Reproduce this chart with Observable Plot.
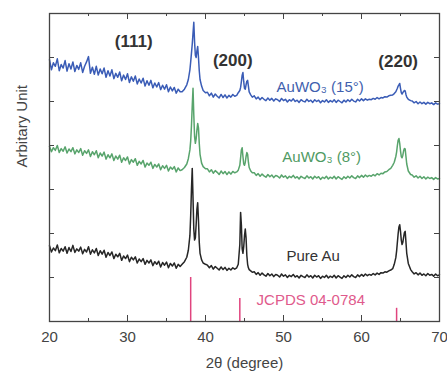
<!DOCTYPE html>
<html>
<head>
<meta charset="utf-8">
<script src="https://cdn.jsdelivr.net/npm/d3@7"></script>
<script src="https://cdn.jsdelivr.net/npm/@observablehq/plot@0.6"></script>
<style>
  html, body { margin: 0; padding: 0; background: #fff; }
</style>
</head>
<body>
<div id="chart"></div>
<script>
// 2θ sample positions (degrees)
const twoTheta = [
  20,20.25,20.5,20.75,21,21.25,21.5,21.75,22,22.25,22.5,22.75,23,23.25,23.5,23.75,24,24.25,24.5,24.75,
  25,25.25,25.5,25.75,26,26.25,26.5,26.75,27,27.25,27.5,27.75,28,28.25,28.5,28.75,29,29.25,29.5,29.75,
  30,30.25,30.5,30.75,31,31.25,31.5,31.75,32,32.25,32.5,32.75,33,33.25,33.5,33.75,34,34.25,34.5,34.75,
  35,35.25,35.5,35.75,36,36.25,36.5,36.75,
  37,37.3,37.6,37.8,38,38.1,38.2,38.3,38.4,38.5,38.6,38.7,38.8,38.9,39,39.1,39.2,39.3,39.5,39.7,40,
  40.25,40.5,40.75,41,41.25,41.5,41.75,42,42.25,42.5,42.75,43,43.25,43.5,43.75,
  44,44.2,44.4,44.5,44.6,44.7,44.8,44.9,45,45.1,45.2,45.3,45.4,45.5,45.6,45.8,46,
  46.25,46.5,46.75,47,47.25,47.5,47.75,48,48.25,48.5,48.75,49,49.25,49.5,49.75,50,
  50.25,50.5,50.75,51,51.25,51.5,51.75,52,52.25,52.5,52.75,53,53.25,53.5,53.75,54,
  54.25,54.5,54.75,55,55.25,55.5,55.75,56,56.25,56.5,56.75,57,57.25,57.5,57.75,58,
  58.25,58.5,58.75,59,59.25,59.5,59.75,60,60.25,60.5,60.75,61,61.25,61.5,61.75,62,
  62.25,62.5,62.75,63,63.25,63.5,63.75,
  64,64.2,64.4,64.5,64.6,64.7,64.8,64.9,65,65.1,65.2,65.3,65.4,65.5,65.6,65.7,65.8,66,66.3,
  66.5,66.75,67,67.25,67.5,67.75,68,68.25,68.5,68.75,69,69.25,69.5,69.75,70
];

// Intensities (arbitrary units, offset as drawn)
const pureAu = [
  1.72,1.58,1.67,1.61,1.74,1.56,1.66,1.60,1.70,1.55,1.68,1.59,1.73,1.57,1.65,1.60,
  1.69,1.54,1.64,1.58,1.70,1.53,1.63,1.56,1.66,1.50,1.61,1.53,1.62,1.46,1.57,1.50,
  1.58,1.43,1.53,1.47,1.55,1.39,1.49,1.43,1.51,1.36,1.46,1.40,1.47,1.33,1.42,1.36,
  1.43,1.30,1.39,1.33,1.40,1.27,1.36,1.30,1.37,1.24,1.34,1.28,1.35,1.22,1.32,1.26,
  1.33,1.21,1.30,1.25,
  1.30,1.36,1.46,1.62,1.95,2.40,3.00,3.48,2.80,2.10,1.85,1.90,2.20,2.55,2.70,2.30,1.80,1.55,1.40,1.33,1.30,
  1.28,1.22,1.27,1.19,1.25,1.21,1.17,1.24,1.18,1.23,1.16,1.21,1.17,1.22,1.19,
  1.22,1.30,1.75,2.48,2.20,1.65,1.55,1.70,1.95,2.10,1.90,1.50,1.30,1.22,1.18,1.15,1.12,
  1.13,1.07,1.11,1.05,1.10,1.06,1.03,1.09,1.04,1.08,1.02,1.07,1.05,1.01,1.08,1.03,
  1.06,1.00,1.05,1.02,1.07,1.01,1.04,0.99,1.05,1.02,1.00,1.06,1.01,1.04,0.99,1.05,
  1.01,1.04,0.98,1.03,1.00,1.05,0.99,1.03,1.00,1.05,0.99,1.04,1.01,0.98,1.04,1.00,
  1.05,1.01,1.06,1.02,1.00,1.06,1.02,1.07,1.03,1.08,1.04,1.07,1.05,1.09,1.06,1.10,
  1.07,1.11,1.10,1.13,1.12,1.15,1.17,
  1.20,1.30,1.45,1.60,1.80,2.00,2.15,2.20,2.05,1.85,1.75,1.80,1.92,2.02,2.05,1.80,1.55,1.32,1.18,
  1.13,1.08,1.11,1.06,1.10,1.05,1.08,1.04,1.09,1.05,1.07,1.03,1.08,1.04,1.06
];
const auwo8 = [
  3.98,3.86,3.95,3.89,4.00,3.84,3.93,3.87,3.97,3.83,3.92,3.86,3.95,3.81,3.90,3.84,
  3.93,3.78,3.88,3.82,3.90,3.75,3.86,3.79,3.88,3.72,3.83,3.76,3.85,3.69,3.79,3.72,
  3.81,3.66,3.76,3.69,3.78,3.62,3.72,3.66,3.74,3.58,3.68,3.62,3.70,3.55,3.64,3.58,
  3.66,3.51,3.60,3.55,3.62,3.48,3.57,3.51,3.58,3.45,3.54,3.48,3.55,3.42,3.51,3.46,
  3.52,3.40,3.49,3.43,
  3.45,3.50,3.58,3.70,3.90,4.10,4.45,4.90,5.30,4.70,4.20,4.05,4.15,4.35,4.50,4.40,4.05,3.80,3.60,3.52,3.47,
  3.47,3.40,3.45,3.37,3.43,3.39,3.34,3.42,3.36,3.41,3.34,3.40,3.35,3.41,3.38,
  3.40,3.44,3.55,3.72,3.90,3.95,3.75,3.58,3.55,3.62,3.75,3.84,3.80,3.62,3.50,3.42,3.38,
  3.38,3.32,3.36,3.30,3.35,3.31,3.28,3.34,3.29,3.33,3.27,3.32,3.30,3.26,3.33,3.28,
  3.31,3.25,3.30,3.27,3.32,3.26,3.29,3.24,3.30,3.27,3.25,3.31,3.26,3.29,3.24,3.30,
  3.26,3.29,3.23,3.28,3.25,3.30,3.24,3.28,3.25,3.30,3.24,3.29,3.26,3.23,3.29,3.25,
  3.30,3.26,3.31,3.27,3.25,3.31,3.27,3.32,3.28,3.33,3.29,3.32,3.30,3.34,3.31,3.36,
  3.33,3.37,3.36,3.40,3.41,3.45,3.48,
  3.55,3.62,3.75,3.85,4.00,4.12,4.16,4.05,3.88,3.75,3.72,3.78,3.88,3.93,3.92,3.75,3.58,3.42,3.34,
  3.33,3.28,3.31,3.26,3.30,3.25,3.29,3.24,3.28,3.25,3.27,3.23,3.27,3.24,3.25
];
const auwo15 = [
  5.95,5.72,5.88,5.80,5.97,5.70,5.84,5.76,5.93,5.69,5.86,5.74,5.90,5.68,5.82,5.73,
  5.88,5.66,5.80,5.90,6.02,5.64,5.78,5.62,5.80,5.60,5.74,5.63,5.76,5.55,5.70,5.58,
  5.72,5.52,5.64,5.55,5.67,5.47,5.60,5.50,5.63,5.43,5.56,5.46,5.58,5.40,5.51,5.42,
  5.53,5.35,5.47,5.37,5.48,5.31,5.42,5.33,5.43,5.27,5.37,5.28,5.38,5.22,5.33,5.24,
  5.32,5.19,5.28,5.22,
  5.22,5.28,5.38,5.50,5.72,5.90,6.10,6.30,6.55,6.80,6.35,6.05,6.00,6.15,6.25,6.00,5.70,5.50,5.35,5.25,5.20,
  5.21,5.13,5.19,5.10,5.17,5.12,5.08,5.16,5.09,5.15,5.08,5.14,5.10,5.16,5.12,
  5.14,5.20,5.25,5.32,5.45,5.60,5.66,5.45,5.30,5.28,5.38,5.46,5.48,5.35,5.22,5.15,5.10,
  5.13,5.06,5.10,5.04,5.09,5.05,5.02,5.08,5.03,5.07,5.01,5.06,5.04,5.00,5.07,5.02,
  5.05,4.99,5.04,5.01,5.06,5.00,5.03,4.98,5.04,5.01,4.99,5.05,5.00,5.03,4.98,5.04,
  5.00,5.03,4.97,5.02,4.99,5.04,4.98,5.02,4.99,5.04,4.98,5.03,5.00,4.97,5.03,4.99,
  5.04,5.00,5.05,5.01,4.99,5.05,5.01,5.06,5.02,5.06,5.03,5.05,5.04,5.07,5.05,5.09,
  5.06,5.09,5.08,5.11,5.10,5.13,5.14,
  5.15,5.18,5.22,5.26,5.30,5.35,5.38,5.41,5.30,5.20,5.17,5.20,5.23,5.25,5.24,5.16,5.10,5.05,5.02,
  5.01,4.97,5.00,4.95,4.99,4.95,4.98,4.94,4.98,4.95,4.97,4.93,4.97,4.94,4.95
];

// JCPDS 04-0784 reference lines
const jcpdsPos = [38.1, 44.4, 64.5];
const jcpdsHeight = [1.0, 0.52, 0.30];

// Axis ticks
const xMajor = [20, 30, 40, 50, 60, 70];
const xMinor = [25, 35, 45, 55, 65];
const yTicks = [1, 2, 3, 4, 5, 6];

// Labels
const seriesNames = ["AuWO₃ (15°)", "AuWO₃ (8°)", "Pure Au", "JCPDS 04-0784"];
const peakNames = ["(111)", "(200)", "(220)"];

const W = 447, H = 374, mL = 49, mR = 8, mT = 13, mB = 53;
const innerW = W - mL - mR, innerH = H - mT - mB;

const colors = {blue: "#3a5cb6", green: "#58a46c", black: "#262626", pink: "#e0447e"};

const rows = (ys) => twoTheta.map((x, i) => ({x, y: ys[i]}));
const jcpds = jcpdsPos.map((x, i) => ({x, h: jcpdsHeight[i]}));

const seriesLabels = [
  {t: seriesNames[0], x: 54.7, y: 5.32, c: "#3f5fae"},
  {t: seriesNames[1], x: 54.9, y: 3.73, c: "#4f9a63"},
  {t: seriesNames[2], x: 53.8, y: 1.48, c: "#333"},
  {t: seriesNames[3], x: 53.5, y: 0.48, c: "#df5a8c"}
];
const peakLabels = [
  {t: peakNames[0], x: 30.8, y: 6.36},
  {t: peakNames[1], x: 43.5, y: 5.93},
  {t: peakNames[2], x: 64.7, y: 5.90}
];

const tickStroke = "#444";
const chart = Plot.plot({
  width: W, height: H,
  marginLeft: mL, marginRight: mR, marginTop: mT, marginBottom: mB,
  x: {domain: [20, 70]},
  y: {domain: [0, 7], axis: null},
  style: {fontFamily: "'Liberation Sans', Arial, sans-serif", background: "#fff"},
  marks: [
    Plot.ruleX(jcpds, {x: "x", y1: 0, y2: "h", stroke: colors.pink, strokeWidth: 1.5}),
    Plot.line(rows(pureAu), {x: "x", y: "y", stroke: colors.black, strokeWidth: 1.5}),
    Plot.line(rows(auwo8), {x: "x", y: "y", stroke: colors.green, strokeWidth: 1.5}),
    Plot.line(rows(auwo15), {x: "x", y: "y", stroke: colors.blue, strokeWidth: 1.5}),
    Plot.frame({stroke: "#444", strokeWidth: 1.3}),
    Plot.ruleX(xMajor, {x: d => d, insetTop: innerH - 6, stroke: tickStroke}),
    Plot.ruleX(xMinor, {x: d => d, insetTop: innerH - 3, stroke: tickStroke}),
    Plot.ruleX(xMajor, {x: d => d, insetBottom: innerH - 6, stroke: tickStroke}),
    Plot.ruleX(xMinor, {x: d => d, insetBottom: innerH - 3, stroke: tickStroke}),
    Plot.ruleY(yTicks, {y: d => d, insetRight: innerW - 5, stroke: tickStroke}),
    Plot.ruleY(yTicks, {y: d => d, insetLeft: innerW - 5, stroke: tickStroke}),
    Plot.axisX(xMajor, {tickSize: 0, tickPadding: 10, fontSize: 15, fill: "#444", label: null}),
    Plot.text(["2θ (degree)"], {frameAnchor: "bottom", dy: 46, fontSize: 15, fill: "#444"}),
    Plot.text(["Arbitary Unit"], {frameAnchor: "left", dx: -27, rotate: -90, fontSize: 15, fill: "#444"}),
    Plot.text(seriesLabels, {x: "x", y: "y", text: "t", fill: "c", fontSize: 15}),
    Plot.text(peakLabels, {x: "x", y: "y", text: "t", fill: "#333", fontSize: 17, fontWeight: "bold"})
  ]
});
document.getElementById("chart").appendChild(chart);
</script>
</body>
</html>
